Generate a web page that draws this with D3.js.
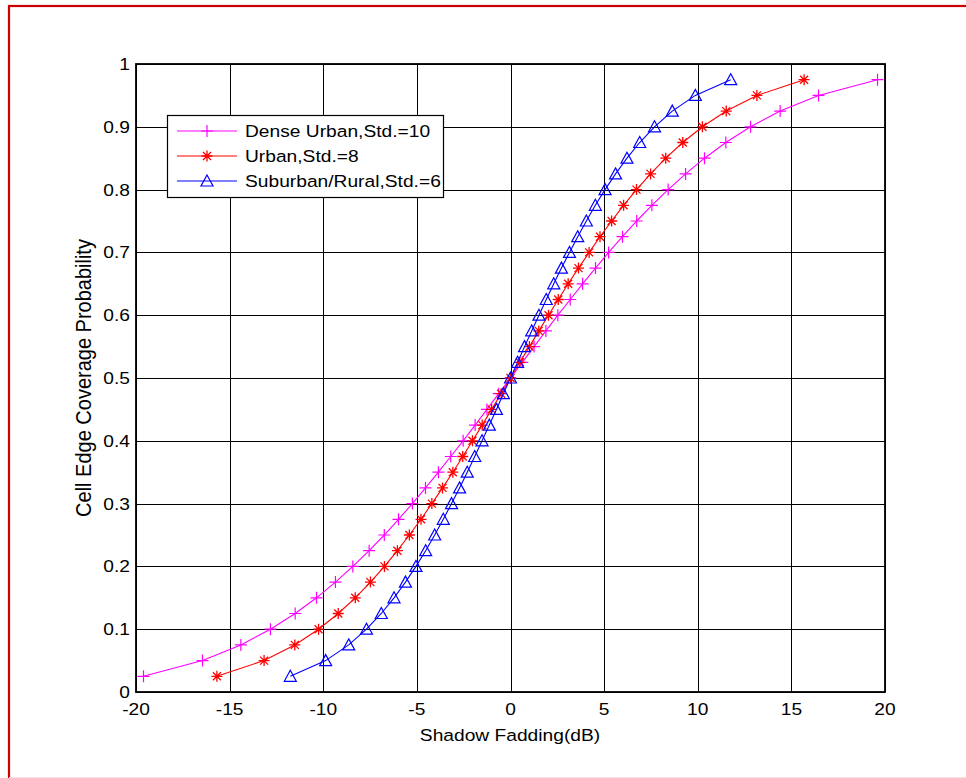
<!DOCTYPE html>
<html><head><meta charset="utf-8">
<script src="https://cdn.jsdelivr.net/npm/d3@7"></script>
<style>html,body{margin:0;padding:0;background:#fff;}svg{display:block;}</style>
</head><body>
<svg id="chart" width="966" height="778"></svg>
<script>
// ---- data ----
const probability = [0.025,0.05,0.075,0.1,0.125,0.15,0.175,0.2,0.225,0.25,0.275,0.3,0.325,0.35,0.375,0.4,0.425,0.45,0.475,0.5,
  0.525,0.55,0.575,0.6,0.625,0.65,0.675,0.7,0.725,0.75,0.775,0.8,0.825,0.85,0.875,0.9,0.925,0.95,0.975];
const denseUrbanX = [-19.60,-16.45,-14.40,-12.82,-11.50,-10.36,-9.35,-8.42,-7.55,-6.74,-5.98,-5.24,-4.54,-3.85,-3.19,-2.53,-1.89,-1.26,-0.63,0,
  0.63,1.26,1.89,2.53,3.19,3.85,4.54,5.24,5.98,6.74,7.55,8.42,9.35,10.36,11.50,12.82,14.40,16.45,19.60];
const urbanX = [-15.68,-13.16,-11.52,-10.25,-9.20,-8.29,-7.48,-6.73,-6.04,-5.40,-4.78,-4.20,-3.63,-3.08,-2.55,-2.03,-1.51,-1.01,-0.50,0,
  0.50,1.01,1.51,2.03,2.55,3.08,3.63,4.20,4.78,5.40,6.04,6.73,7.48,8.29,9.20,10.25,11.52,13.16,15.68];
const suburbanX = [-11.76,-9.87,-8.64,-7.69,-6.90,-6.22,-5.61,-5.05,-4.53,-4.05,-3.59,-3.15,-2.72,-2.31,-1.91,-1.52,-1.13,-0.75,-0.38,0,
  0.38,0.75,1.13,1.52,1.91,2.31,2.72,3.15,3.59,4.05,4.53,5.05,5.61,6.22,6.90,7.69,8.64,9.87,11.76];
const seriesNames = ["Dense Urban,Std.=10","Urban,Std.=8","Suburban/Rural,Std.=6"];
const xTicks = [-20,-15,-10,-5,0,5,10,15,20];
const yTicks = [0,0.1,0.2,0.3,0.4,0.5,0.6,0.7,0.8,0.9,1];
const xTickLabels = ["-20","-15","-10","-5","0","5","10","15","20"];
const yTickLabels = ["0","0.1","0.2","0.3","0.4","0.5","0.6","0.7","0.8","0.9","1"];

// ---- layout ----
const svg = d3.select("#chart");
const L = 136, R = 885, T = 64, B = 692;
const x = d3.scaleLinear().domain([-20,20]).range([L,R]);
const y = d3.scaleLinear().domain([0,1]).range([B,T]);
const FONT = "'Liberation Sans', Arial, sans-serif";
const SX = 1.13;

function label(g, tx, ty, str, anchor, size, rot) {
  return g.append("text")
    .attr("transform", rot ? `translate(${tx},${ty}) rotate(-90) scale(1,${SX})` : `translate(${tx},${ty}) scale(${SX},1)`)
    .attr("text-anchor", anchor || "start")
    .attr("font-family", FONT)
    .attr("font-size", size || 17)
    .attr("fill", "#000")
    .text(str);
}

// outer figure border
svg.append("rect").attr("x",9).attr("y",6).attr("width",970).attr("height",790)
  .attr("fill","none").attr("stroke","#cc0000").attr("stroke-width",2.2);
svg.append("line").attr("x1",9).attr("x2",966).attr("y1",777.5).attr("y2",777.5)
  .attr("stroke","#f6e0e0").attr("stroke-width",1);

// grid
const grid = svg.append("g").attr("shape-rendering","crispEdges");
grid.selectAll(".gx").data(xTicks).join("line")
  .attr("x1",d=>Math.round(x(d))+0.5).attr("x2",d=>Math.round(x(d))+0.5).attr("y1",T).attr("y2",B)
  .attr("stroke","#000").attr("stroke-width",1);
grid.selectAll(".gy").data(yTicks).join("line")
  .attr("y1",d=>Math.round(y(d))+0.5).attr("y2",d=>Math.round(y(d))+0.5).attr("x1",L).attr("x2",R)
  .attr("stroke","#000").attr("stroke-width",1);

// axes (D3 axes; labels drawn with slight horizontal stretch)
const xAxis = d3.axisBottom(x).tickValues(xTicks).tickFormat((d,i)=>xTickLabels[i]).tickSize(0).tickPadding(0);
const gx = svg.append("g").attr("transform",`translate(0,${B})`).call(xAxis);
gx.select(".domain").remove();
gx.selectAll("text").remove();
xTicks.forEach((d,i)=>label(svg, x(d), 715, xTickLabels[i], "middle", 17));

const yAxis = d3.axisLeft(y).tickValues(yTicks).tickFormat((d,i)=>yTickLabels[i]).tickSize(0);
const gy = svg.append("g").attr("transform",`translate(${L},0)`).call(yAxis);
gy.select(".domain").remove();
gy.selectAll("text").remove();
yTicks.forEach((d,i)=>label(svg, 130, y(d)+6, yTickLabels[i], "end", 17));

// frame
svg.append("rect").attr("x",L).attr("y",T).attr("width",R-L).attr("height",B-T)
  .attr("fill","none").attr("stroke","#000").attr("stroke-width",1.8);

// axis titles
label(svg, 510, 741, "Shadow Fadding(dB)", "middle", 17);
label(svg, 91, 378, "Cell Edge Coverage Probability", "middle", 20, true);

// marker drawers
function plus(g, cx, cy, color){
  g.append("path").attr("d",`M${cx-6},${cy}H${cx+6}M${cx},${cy-6}V${cy+6}`)
    .attr("stroke",color).attr("stroke-width",1.2).attr("fill","none");
}
function star(g, cx, cy, color){
  const r=5.5, d=4;
  g.append("path").attr("d",`M${cx-r},${cy}H${cx+r}M${cx},${cy-r}V${cy+r}M${cx-d},${cy-d}L${cx+d},${cy+d}M${cx-d},${cy+d}L${cx+d},${cy-d}`)
    .attr("stroke",color).attr("stroke-width",1.3).attr("fill","none");
}
function tri(g, cx, cy, color){
  g.append("path").attr("d",`M${cx},${cy-6}L${cx+6},${cy+5}L${cx-6},${cy+5}Z`)
    .attr("stroke",color).attr("stroke-width",1.2).attr("fill","none");
}

const series = [
  {name:seriesNames[0], xs:denseUrbanX, color:"#ff00ff", marker:plus},
  {name:seriesNames[1], xs:urbanX, color:"#ff0000", marker:star},
  {name:seriesNames[2], xs:suburbanX, color:"#0000ff", marker:tri}
];
const line = d3.line().x(d=>x(d[0])).y(d=>y(d[1]));
series.forEach(s=>{
  const pts = s.xs.map((v,i)=>[v, probability[i]]);
  const g = svg.append("g");
  g.append("path").attr("d", line(pts)).attr("fill","none").attr("stroke",s.color).attr("stroke-width",1.1);
  pts.forEach(p=>s.marker(g, x(p[0]), y(p[1]), s.color));
});

// legend
const lg = svg.append("g");
lg.append("rect").attr("x",167.5).attr("y",115.5).attr("width",276).attr("height",82)
  .attr("fill","#fff").attr("stroke","#000").attr("stroke-width",1.2);
const rowsY = [131,156,181];
series.forEach((s,i)=>{
  lg.append("line").attr("x1",177).attr("x2",237).attr("y1",rowsY[i]).attr("y2",rowsY[i])
    .attr("stroke",s.color).attr("stroke-width",1.1);
  s.marker(lg, 207, rowsY[i], s.color);
  label(lg, 245, rowsY[i]+6, s.name, "start", 17);
});
</script>
</body></html>
